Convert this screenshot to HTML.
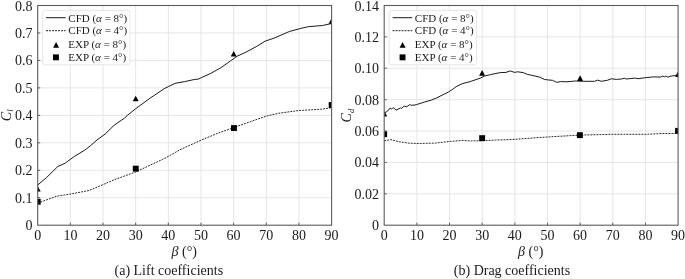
<!DOCTYPE html>
<html><head><meta charset="utf-8"><title>Lift and drag coefficients</title>
<style>
html,body{margin:0;padding:0;background:#fff;}
svg{display:block;font-family:"Liberation Serif",serif;fill:#1a1a1a;}
</style></head><body>
<svg width="685" height="279" viewBox="0 0 685 279">
<rect x="0" y="0" width="685" height="279" fill="#fff"/>
<line x1="70.36" y1="5.5" x2="70.36" y2="225.2" stroke="#e6e6e6" stroke-width="1"/>
<line x1="103.01" y1="5.5" x2="103.01" y2="225.2" stroke="#e6e6e6" stroke-width="1"/>
<line x1="135.67" y1="5.5" x2="135.67" y2="225.2" stroke="#e6e6e6" stroke-width="1"/>
<line x1="168.32" y1="5.5" x2="168.32" y2="225.2" stroke="#e6e6e6" stroke-width="1"/>
<line x1="200.98" y1="5.5" x2="200.98" y2="225.2" stroke="#e6e6e6" stroke-width="1"/>
<line x1="233.63" y1="5.5" x2="233.63" y2="225.2" stroke="#e6e6e6" stroke-width="1"/>
<line x1="266.29" y1="5.5" x2="266.29" y2="225.2" stroke="#e6e6e6" stroke-width="1"/>
<line x1="298.94" y1="5.5" x2="298.94" y2="225.2" stroke="#e6e6e6" stroke-width="1"/>
<line x1="37.7" y1="197.74" x2="331.6" y2="197.74" stroke="#e6e6e6" stroke-width="1"/>
<line x1="37.7" y1="170.27" x2="331.6" y2="170.27" stroke="#e6e6e6" stroke-width="1"/>
<line x1="37.7" y1="142.81" x2="331.6" y2="142.81" stroke="#e6e6e6" stroke-width="1"/>
<line x1="37.7" y1="115.35" x2="331.6" y2="115.35" stroke="#e6e6e6" stroke-width="1"/>
<line x1="37.7" y1="87.89" x2="331.6" y2="87.89" stroke="#e6e6e6" stroke-width="1"/>
<line x1="37.7" y1="60.43" x2="331.6" y2="60.43" stroke="#e6e6e6" stroke-width="1"/>
<line x1="37.7" y1="32.96" x2="331.6" y2="32.96" stroke="#e6e6e6" stroke-width="1"/>
<clipPath id="c1"><rect x="37.7" y="5.5" width="293.9" height="219.7"/></clipPath>
<g clip-path="url(#c1)">
<polyline points="37.7,185.0 46.6,177.5 57.7,166.6 65.2,163.1 74.3,156.5 84.9,150.0 90.5,145.7 97.1,139.9 105.1,134.1 114.2,125.2 124.3,118.3 127.1,115.6 135.7,108.7 150.2,98.1 164.2,88.7 168.6,86.5 175.2,83.3 184.3,81.7 194.3,79.5 198.3,79.1 201.3,77.7 210.3,73.6 220.4,68.0 230.4,61.0 237.1,56.2 246.1,52.1 256.2,46.7 265.2,41.1 274.2,38.1 289.3,31.5 300.3,28.5 308.3,26.7 322.4,25.5 331.6,23.5" fill="none" stroke="#000" stroke-width="0.9" stroke-linejoin="round"/>
<polyline points="37.7,203.1 57.1,196.1 70.1,194.1 89.2,190.5 103.2,184.5 114.3,179.7 135.7,172.0 150.4,165.0 162.4,159.5 168.7,156.2 180.1,149.7 201.2,140.1 218.2,133.1 233.9,127.5 250.3,121.7 266.7,116.0 278.4,113.3 298.8,110.5 320.2,109.3 331.6,107.7" fill="none" stroke="#000" stroke-width="0.85" stroke-dasharray="1.9,1.1" stroke-linejoin="round"/>
<polygon points="37.7,185.9 40.7,191.5 34.7,191.5" fill="#000"/>
<polygon points="135.7,95.7 138.7,101.3 132.7,101.3" fill="#000"/>
<polygon points="233.7,50.9 236.7,56.5 230.7,56.5" fill="#000"/>
<polygon points="331.6,18.2 334.6,23.8 328.6,23.8" fill="#000"/>
<rect x="34.8" y="198.8" width="5.9" height="5.9" fill="#000"/>
<rect x="132.8" y="165.7" width="5.9" height="5.9" fill="#000"/>
<rect x="231.0" y="125.1" width="5.9" height="5.9" fill="#000"/>
<rect x="328.7" y="102.1" width="5.9" height="5.9" fill="#000"/>
</g>
<line x1="70.36" y1="225.2" x2="70.36" y2="222.7" stroke="#5c5c5c" stroke-width="1"/>
<line x1="103.01" y1="225.2" x2="103.01" y2="222.7" stroke="#5c5c5c" stroke-width="1"/>
<line x1="135.67" y1="225.2" x2="135.67" y2="222.7" stroke="#5c5c5c" stroke-width="1"/>
<line x1="168.32" y1="225.2" x2="168.32" y2="222.7" stroke="#5c5c5c" stroke-width="1"/>
<line x1="200.98" y1="225.2" x2="200.98" y2="222.7" stroke="#5c5c5c" stroke-width="1"/>
<line x1="233.63" y1="225.2" x2="233.63" y2="222.7" stroke="#5c5c5c" stroke-width="1"/>
<line x1="266.29" y1="225.2" x2="266.29" y2="222.7" stroke="#5c5c5c" stroke-width="1"/>
<line x1="298.94" y1="225.2" x2="298.94" y2="222.7" stroke="#5c5c5c" stroke-width="1"/>
<line x1="37.7" y1="197.74" x2="40.2" y2="197.74" stroke="#5c5c5c" stroke-width="1"/>
<line x1="37.7" y1="170.27" x2="40.2" y2="170.27" stroke="#5c5c5c" stroke-width="1"/>
<line x1="37.7" y1="142.81" x2="40.2" y2="142.81" stroke="#5c5c5c" stroke-width="1"/>
<line x1="37.7" y1="115.35" x2="40.2" y2="115.35" stroke="#5c5c5c" stroke-width="1"/>
<line x1="37.7" y1="87.89" x2="40.2" y2="87.89" stroke="#5c5c5c" stroke-width="1"/>
<line x1="37.7" y1="60.43" x2="40.2" y2="60.43" stroke="#5c5c5c" stroke-width="1"/>
<line x1="37.7" y1="32.96" x2="40.2" y2="32.96" stroke="#5c5c5c" stroke-width="1"/>
<rect x="37.7" y="5.5" width="293.9" height="219.7" fill="none" stroke="#5c5c5c" stroke-width="1.1"/>
<text x="37.7" y="240.3" text-anchor="middle" font-size="14">0</text>
<text x="70.4" y="240.3" text-anchor="middle" font-size="14">10</text>
<text x="103.0" y="240.3" text-anchor="middle" font-size="14">20</text>
<text x="135.7" y="240.3" text-anchor="middle" font-size="14">30</text>
<text x="168.3" y="240.3" text-anchor="middle" font-size="14">40</text>
<text x="201.0" y="240.3" text-anchor="middle" font-size="14">50</text>
<text x="233.6" y="240.3" text-anchor="middle" font-size="14">60</text>
<text x="266.3" y="240.3" text-anchor="middle" font-size="14">70</text>
<text x="298.9" y="240.3" text-anchor="middle" font-size="14">80</text>
<text x="331.6" y="240.3" text-anchor="middle" font-size="14">90</text>
<text x="32.6" y="230.2" text-anchor="end" font-size="14">0</text>
<text x="32.6" y="202.7" text-anchor="end" font-size="14">0.1</text>
<text x="32.6" y="175.3" text-anchor="end" font-size="14">0.2</text>
<text x="32.6" y="147.8" text-anchor="end" font-size="14">0.3</text>
<text x="32.6" y="120.3" text-anchor="end" font-size="14">0.4</text>
<text x="32.6" y="92.9" text-anchor="end" font-size="14">0.5</text>
<text x="32.6" y="65.4" text-anchor="end" font-size="14">0.6</text>
<text x="32.6" y="38.0" text-anchor="end" font-size="14">0.7</text>
<text x="32.6" y="10.5" text-anchor="end" font-size="14">0.8</text>
<text x="184.2" y="255.5" text-anchor="middle" font-size="14"><tspan font-style="italic">β</tspan> (°)</text>
<text transform="translate(10.7,121.2) rotate(-90)" font-size="14" font-style="italic">C<tspan font-size="8.5" dy="2.5">l</tspan></text>
<text x="168.8" y="275.2" text-anchor="middle" font-size="14">(a) Lift coefficients</text>
<rect x="42.7" y="10.4" width="87.2" height="54.4" rx="2" fill="#fff" fill-opacity="0.9" stroke="#e6e6e6" stroke-width="1"/>
<line x1="46.1" y1="17.7" x2="65.7" y2="17.7" stroke="#000" stroke-width="0.9"/>
<line x1="46.1" y1="30.7" x2="65.7" y2="30.7" stroke="#000" stroke-width="0.9" stroke-dasharray="1.9,1.1"/>
<polygon points="56.1,42.1 59.1,47.7 53.1,47.7" fill="#000"/>
<rect x="53.0" y="54.4" width="5.9" height="5.9" fill="#000"/>
<text x="68.3" y="21.6" font-size="11">CFD (<tspan font-style="italic">α</tspan> = 8°)</text>
<text x="68.3" y="33.9" font-size="11">CFD (<tspan font-style="italic">α</tspan> = 4°)</text>
<text x="68.3" y="48.3" font-size="11">EXP (<tspan font-style="italic">α</tspan> = 8°)</text>
<text x="68.3" y="60.8" font-size="11">EXP (<tspan font-style="italic">α</tspan> = 4°)</text>
<line x1="416.86" y1="5.5" x2="416.86" y2="225.2" stroke="#e6e6e6" stroke-width="1"/>
<line x1="449.51" y1="5.5" x2="449.51" y2="225.2" stroke="#e6e6e6" stroke-width="1"/>
<line x1="482.17" y1="5.5" x2="482.17" y2="225.2" stroke="#e6e6e6" stroke-width="1"/>
<line x1="514.82" y1="5.5" x2="514.82" y2="225.2" stroke="#e6e6e6" stroke-width="1"/>
<line x1="547.48" y1="5.5" x2="547.48" y2="225.2" stroke="#e6e6e6" stroke-width="1"/>
<line x1="580.13" y1="5.5" x2="580.13" y2="225.2" stroke="#e6e6e6" stroke-width="1"/>
<line x1="612.79" y1="5.5" x2="612.79" y2="225.2" stroke="#e6e6e6" stroke-width="1"/>
<line x1="645.44" y1="5.5" x2="645.44" y2="225.2" stroke="#e6e6e6" stroke-width="1"/>
<line x1="384.2" y1="193.81" x2="678.1" y2="193.81" stroke="#e6e6e6" stroke-width="1"/>
<line x1="384.2" y1="162.43" x2="678.1" y2="162.43" stroke="#e6e6e6" stroke-width="1"/>
<line x1="384.2" y1="131.04" x2="678.1" y2="131.04" stroke="#e6e6e6" stroke-width="1"/>
<line x1="384.2" y1="99.66" x2="678.1" y2="99.66" stroke="#e6e6e6" stroke-width="1"/>
<line x1="384.2" y1="68.27" x2="678.1" y2="68.27" stroke="#e6e6e6" stroke-width="1"/>
<line x1="384.2" y1="36.89" x2="678.1" y2="36.89" stroke="#e6e6e6" stroke-width="1"/>
<clipPath id="c2"><rect x="384.2" y="5.5" width="293.9" height="219.7"/></clipPath>
<g clip-path="url(#c2)">
<polyline points="384.2,113.1 387.6,111.1 390.1,108.1 391.6,109.1 393.1,107.6 396.1,110.1 400.6,107.9 401.7,108.3 404.2,106.1 406.7,106.8 409.7,104.6 411.2,105.3 414.2,105.1 416.5,104.6 424.3,102.1 431.4,100.1 436.4,98.0 442.4,95.0 448.5,92.0 452.1,89.7 456.1,86.7 462.2,83.7 470.2,81.6 480.3,78.1 484.3,76.1 490.4,74.6 500.2,72.6 506.0,72.4 510.1,70.9 514.6,72.4 517.6,71.8 523.2,72.6 527.2,74.3 533.2,75.6 540.3,77.3 544.3,79.4 547.8,79.9 552.4,80.3 556.9,82.4 560.4,81.6 567.0,81.8 575.1,81.0 583.2,81.3 594.7,81.3 597.3,80.1 601.3,81.3 607.3,80.3 611.4,78.8 616.4,79.4 621.4,79.0 624.5,78.3 626.4,79.0 635.1,78.1 638.2,78.7 646.2,77.6 653.3,76.9 660.3,77.1 662.8,76.1 664.3,76.9 665.8,76.1 667.9,77.1 670.9,76.1 674.9,75.6 678.1,74.6" fill="none" stroke="#000" stroke-width="0.9" stroke-linejoin="round"/>
<polyline points="384.2,140.7 391.0,139.7 399.1,141.7 408.1,143.1 416.7,143.5 435.2,143.1 449.6,141.5 461.3,140.5 471.3,140.9 482.3,140.7 495.4,140.1 512.0,139.5 527.0,138.4 547.3,137.0 579.7,135.1 613.4,134.3 645.8,134.3 662.0,133.5 678.1,133.5" fill="none" stroke="#000" stroke-width="0.85" stroke-dasharray="1.9,1.1" stroke-linejoin="round"/>
<polygon points="384.2,110.8 387.2,116.4 381.2,116.4" fill="#000"/>
<polygon points="482.1,70.1 485.1,75.7 479.1,75.7" fill="#000"/>
<polygon points="580.1,75.3 583.1,80.9 577.1,80.9" fill="#000"/>
<polygon points="678.1,71.5 681.1,77.1 675.1,77.1" fill="#000"/>
<rect x="381.2" y="131.2" width="5.9" height="5.9" fill="#000"/>
<rect x="479.2" y="135.2" width="5.9" height="5.9" fill="#000"/>
<rect x="576.9" y="132.2" width="5.9" height="5.9" fill="#000"/>
<rect x="675.1" y="127.9" width="5.9" height="5.9" fill="#000"/>
</g>
<line x1="416.86" y1="225.2" x2="416.86" y2="222.7" stroke="#5c5c5c" stroke-width="1"/>
<line x1="449.51" y1="225.2" x2="449.51" y2="222.7" stroke="#5c5c5c" stroke-width="1"/>
<line x1="482.17" y1="225.2" x2="482.17" y2="222.7" stroke="#5c5c5c" stroke-width="1"/>
<line x1="514.82" y1="225.2" x2="514.82" y2="222.7" stroke="#5c5c5c" stroke-width="1"/>
<line x1="547.48" y1="225.2" x2="547.48" y2="222.7" stroke="#5c5c5c" stroke-width="1"/>
<line x1="580.13" y1="225.2" x2="580.13" y2="222.7" stroke="#5c5c5c" stroke-width="1"/>
<line x1="612.79" y1="225.2" x2="612.79" y2="222.7" stroke="#5c5c5c" stroke-width="1"/>
<line x1="645.44" y1="225.2" x2="645.44" y2="222.7" stroke="#5c5c5c" stroke-width="1"/>
<line x1="384.2" y1="193.81" x2="386.7" y2="193.81" stroke="#5c5c5c" stroke-width="1"/>
<line x1="384.2" y1="162.43" x2="386.7" y2="162.43" stroke="#5c5c5c" stroke-width="1"/>
<line x1="384.2" y1="131.04" x2="386.7" y2="131.04" stroke="#5c5c5c" stroke-width="1"/>
<line x1="384.2" y1="99.66" x2="386.7" y2="99.66" stroke="#5c5c5c" stroke-width="1"/>
<line x1="384.2" y1="68.27" x2="386.7" y2="68.27" stroke="#5c5c5c" stroke-width="1"/>
<line x1="384.2" y1="36.89" x2="386.7" y2="36.89" stroke="#5c5c5c" stroke-width="1"/>
<rect x="384.2" y="5.5" width="293.9" height="219.7" fill="none" stroke="#5c5c5c" stroke-width="1.1"/>
<text x="384.2" y="240.3" text-anchor="middle" font-size="14">0</text>
<text x="416.9" y="240.3" text-anchor="middle" font-size="14">10</text>
<text x="449.5" y="240.3" text-anchor="middle" font-size="14">20</text>
<text x="482.2" y="240.3" text-anchor="middle" font-size="14">30</text>
<text x="514.8" y="240.3" text-anchor="middle" font-size="14">40</text>
<text x="547.5" y="240.3" text-anchor="middle" font-size="14">50</text>
<text x="580.1" y="240.3" text-anchor="middle" font-size="14">60</text>
<text x="612.8" y="240.3" text-anchor="middle" font-size="14">70</text>
<text x="645.4" y="240.3" text-anchor="middle" font-size="14">80</text>
<text x="678.1" y="240.3" text-anchor="middle" font-size="14">90</text>
<text x="379.1" y="230.2" text-anchor="end" font-size="14">0</text>
<text x="379.1" y="198.8" text-anchor="end" font-size="14">0.02</text>
<text x="379.1" y="167.4" text-anchor="end" font-size="14">0.04</text>
<text x="379.1" y="136.0" text-anchor="end" font-size="14">0.06</text>
<text x="379.1" y="104.7" text-anchor="end" font-size="14">0.08</text>
<text x="379.1" y="73.3" text-anchor="end" font-size="14">0.10</text>
<text x="379.1" y="41.9" text-anchor="end" font-size="14">0.12</text>
<text x="379.1" y="10.5" text-anchor="end" font-size="14">0.14</text>
<text x="530.8" y="255.5" text-anchor="middle" font-size="14"><tspan font-style="italic">β</tspan> (°)</text>
<text transform="translate(351.0,122.4) rotate(-90)" font-size="14" font-style="italic">C<tspan font-size="8.5" dy="2.5">d</tspan></text>
<text x="512" y="275.2" text-anchor="middle" font-size="14">(b) Drag coefficients</text>
<rect x="389.2" y="10.4" width="87.2" height="54.4" rx="2" fill="#fff" fill-opacity="0.9" stroke="#e6e6e6" stroke-width="1"/>
<line x1="392.6" y1="17.7" x2="412.2" y2="17.7" stroke="#000" stroke-width="0.9"/>
<line x1="392.6" y1="30.7" x2="412.2" y2="30.7" stroke="#000" stroke-width="0.9" stroke-dasharray="1.9,1.1"/>
<polygon points="402.6,42.1 405.6,47.7 399.6,47.7" fill="#000"/>
<rect x="399.6" y="54.4" width="5.9" height="5.9" fill="#000"/>
<text x="414.8" y="21.6" font-size="11">CFD (<tspan font-style="italic">α</tspan> = 8°)</text>
<text x="414.8" y="33.9" font-size="11">CFD (<tspan font-style="italic">α</tspan> = 4°)</text>
<text x="414.8" y="48.3" font-size="11">EXP (<tspan font-style="italic">α</tspan> = 8°)</text>
<text x="414.8" y="60.8" font-size="11">EXP (<tspan font-style="italic">α</tspan> = 4°)</text>
</svg>
</body></html>
